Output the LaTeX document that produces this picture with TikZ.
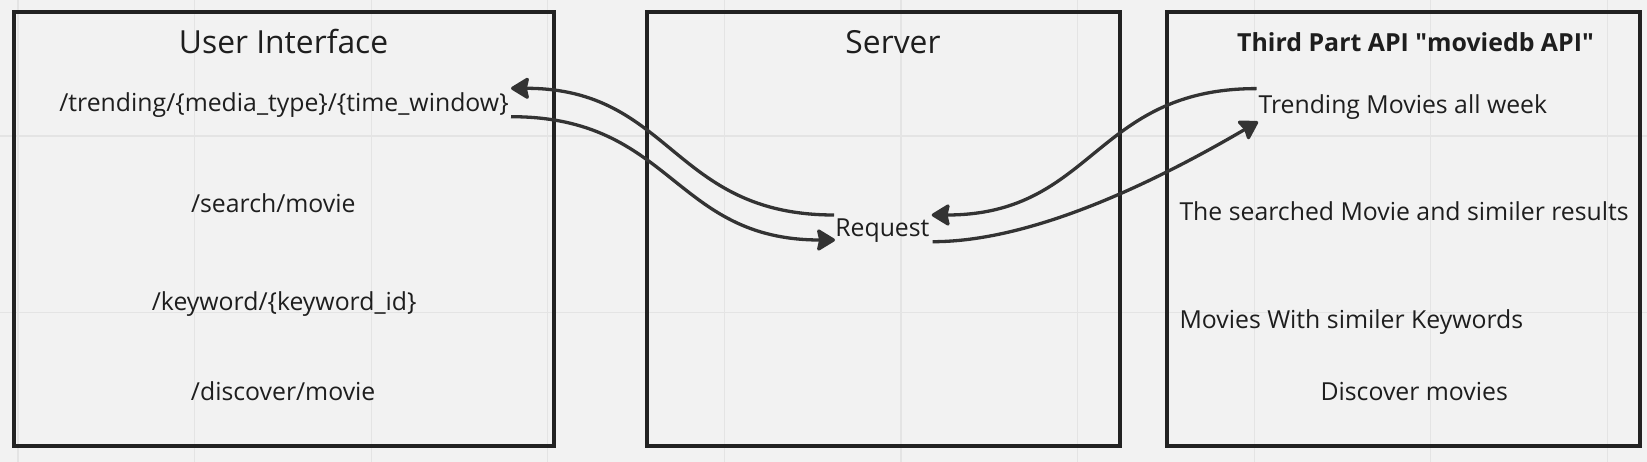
\documentclass[tikz,border=0pt]{standalone}
\usepackage{fontspec}
\setmainfont{Open Sans}
\usetikzlibrary{arrows.meta}
\definecolor{bgc}{HTML}{F2F2F2}
\definecolor{gridc}{HTML}{E4E4E4}
\definecolor{boxc}{HTML}{222222}
\definecolor{txtc}{HTML}{1E1E1E}
\definecolor{arrc}{HTML}{333333}
\tikzset{
  panel/.style={draw=boxc, line width=3.2pt, minimum height=434pt, inner sep=0pt, outer sep=0pt},
  ttl/.style={text=txtc, inner sep=0pt, anchor=base, font=\fontsize{31.8}{37}\selectfont},
  bttl/.style={text=txtc, inner sep=0pt, anchor=base, font=\fontsize{24.9}{29}\selectfont\bfseries},
  item/.style={text=txtc, inner sep=0pt, anchor=base, font=\fontsize{24.8}{29}\selectfont},
  litem/.style={item, anchor=base west},
  conn/.style={draw=arrc, line width=3.3pt, -{Stealth[length=20pt,width=24pt,inset=2.5pt,round]}},
}
\begin{document}
\begin{tikzpicture}[x=1pt,y=-1pt]
\fill[bgc] (0,0) rectangle (1647,462);
\useasboundingbox (0,0) rectangle (1647,462);
\foreach \gx in {18,194.6,371.2,547.8,724.4,901,1077.6,1254.2,1430.8,1607.4}
  \draw[gridc, line width=1.2pt] (\gx,0) -- (\gx,462);
\foreach \gy in {136,312.6}
  \draw[gridc, line width=1.2pt] (0,\gy) -- (1647,\gy);

% panels
\node[panel, minimum width=540pt] (ui) at (284,229) {};
\node[panel, minimum width=473pt] (srv) at (883.5,229) {};
\node[panel, minimum width=473pt] (api) at (1403.5,229) {};

% titles
\node[ttl] (uititle) at (283.6,54) {User Interface};
\node[ttl] (srvtitle) at (893,54) {Server};
\node[bttl] (apititle) at (1415.5,51.7) {Third Part API \textquotedbl moviedb API\textquotedbl};

% UI endpoints
\node[item] (trend) at (284,111.7) {/trending/\{media\_type\}/\{time\_window\}};
\node[item] (search) at (273.3,212.3) {/search/movie};
\node[item] (keyword) at (284.2,310.7) {/keyword/\{keyword\_id\}};
\node[item] (discover) at (283.2,400.7) {/discover/movie};

% server
\node[item] (req) at (882.4,236.7) {Request};

% API results
\node[litem] (rtrend) at (1258.3,113.3) {Trending Movies all week};
\node[litem] (rsearch) at (1179.3,220.7) {The searched Movie and similer results};
\node[litem] (rkey) at (1179.3,329) {Movies With similer Keywords};
\node[item] (rdisc) at (1414.2,400) {Discover movies};

% connector ends
\coordinate (a1s) at (834,215);
\coordinate (a1e) at (511,88.3);
\coordinate (a2s) at (511,116.7);
\coordinate (a2e) at (835,240);
\coordinate (a3s) at (1256.5,88.6);
\coordinate (a3e) at (931.7,215);
\coordinate (a4s) at (932.7,241.7);
\coordinate (a4e) at (1258,121.7);

\draw[conn] (a1s) .. controls (672,215) and (672,88.3) .. (a1e);
\draw[conn] (a2s) .. controls (673,116.7) and (673,240) .. (a2e);
\draw[conn] (a3s) .. controls (1094,88.6) and (1094,215) .. (a3e);
\draw[conn] (a4s) .. controls (1030,241.7) and (1150,185) .. (a4e);
\end{tikzpicture}
\end{document}
